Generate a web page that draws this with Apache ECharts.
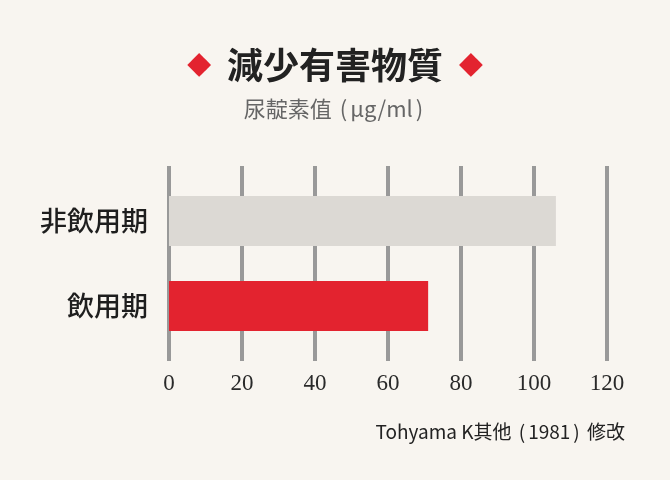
<!DOCTYPE html>
<html>
<head>
<meta charset="utf-8">
<script src="https://cdn.jsdelivr.net/npm/echarts@6/dist/echarts.min.js"></script>
<style>
html,body{margin:0;padding:0;background:#f8f5f0;}
#c{width:670px;height:480px;}
</style>
</head>
<body>
<div id="c"></div>
<script>
const categories = ['非飲用期', '飲用期'];
const values = [106, 71];
const barColors = ['#dcd9d4', '#e3232f'];
const ticks = [0, 20, 40, 60, 80, 100, 120];
const titleText = '減少有害物質';
const subtitleText = ['尿靛素值 ', '(', 'μg/ml', ')'];
const sourceText = ['Tohyama K其他 ', '(', '1981', ')', ' 修改'];

const chart = echarts.init(document.getElementById('c'));
const cjk = '"Noto Sans CJK JP", sans-serif';
chart.setOption({
  backgroundColor: '#f8f5f0',
  animation: false,
  title: [{
    text: '{d|◆}{t|' + titleText + '}{d|◆}',
    left: 'center', top: 42,
    textStyle: {
      rich: {
        d: { color: '#e3232f', fontSize: 31, fontWeight: 'normal', fontFamily: 'DejaVu Sans' },
        t: { color: '#222', fontSize: 36, fontWeight: 'bold', fontFamily: cjk, padding: [0, 16] }
      }
    }
  }, {
    text: '{n|' + subtitleText[0] + '}{p|' + subtitleText[1] + '}{n|' + subtitleText[2] + '}{p|' + subtitleText[3] + '}',
    left: 'center', top: 93,
    textStyle: {
      fontWeight: 'normal',
      rich: {
        n: { color: '#666', fontSize: 22, fontWeight: 'normal', fontFamily: cjk },
        p: { color: '#666', fontSize: 22, fontWeight: 'normal', fontFamily: cjk, padding: [0, 3] }
      }
    }
  }, {
    text: '{n|' + sourceText[0] + '}{p|' + sourceText[1] + '}{n|' + sourceText[2] + '}{p|' + sourceText[3] + '}{n|' + sourceText[4] + '}',
    right: 40, top: 417,
    textStyle: {
      fontWeight: 'normal',
      rich: {
        n: { color: '#222', fontSize: 19, fontWeight: 'normal', fontFamily: cjk },
        p: { color: '#222', fontSize: 19, fontWeight: 'normal', fontFamily: cjk, padding: [0, 3] }
      }
    }
  }],
  grid: [
    { left: 169, right: 63, top: 166, height: 195 },
    { left: 169, right: 63, top: 178.5, height: 170 }
  ],
  xAxis: [{
    gridIndex: 0, type: 'value', min: 0, max: 120, interval: 20,
    axisLine: { show: false }, axisTick: { show: false },
    splitLine: { show: true, lineStyle: { color: '#999', width: 4 } },
    axisLabel: {
      margin: 11, color: '#2a2a2a', fontSize: 23, fontFamily: '"Liberation Serif", "DejaVu Serif", serif',
      formatter: v => ticks.includes(v) ? String(v) : ''
    }
  }, {
    gridIndex: 1, type: 'value', min: 0, max: 120, interval: 20,
    axisLine: { show: false }, axisTick: { show: false },
    splitLine: { show: false }, axisLabel: { show: false }
  }],
  yAxis: [{
    gridIndex: 0, type: 'category', data: [''], show: false
  }, {
    gridIndex: 1, type: 'category', data: categories, inverse: true,
    axisLine: { show: false }, axisTick: { show: false },
    axisLabel: { margin: 21, color: '#1e1e1e', fontSize: 27, fontWeight: 500, fontFamily: cjk }
  }],
  series: [{
    type: 'bar', xAxisIndex: 1, yAxisIndex: 1, barWidth: 50,
    data: values.map((v, i) => ({ value: v, itemStyle: { color: barColors[i] } })),
    label: { show: false }
  }]
});
</script>
</body>
</html>
